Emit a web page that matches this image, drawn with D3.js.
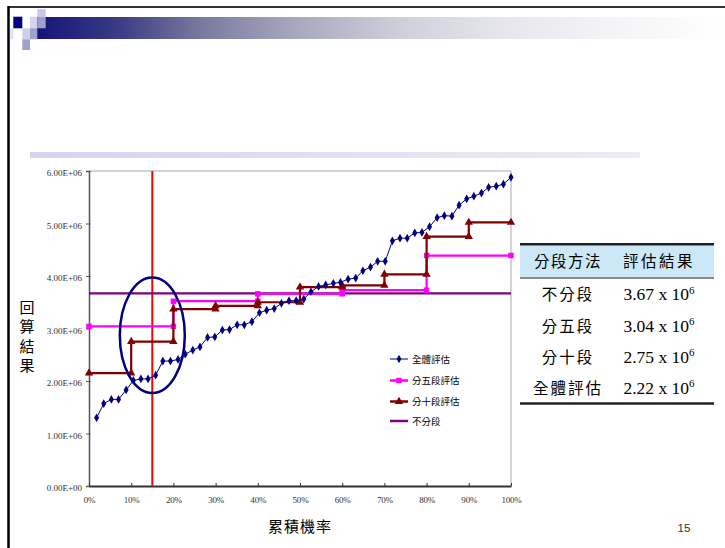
<!DOCTYPE html>
<html><head><meta charset="utf-8">
<script src="https://cdn.jsdelivr.net/npm/d3@7"></script>
<style>
html,body{margin:0;padding:0;background:#fff;}
svg{display:block;}
</style></head>
<body>
<svg id="chart" width="725" height="548"></svg>
<script>
// ---------------- data ----------------
const xPct = [1.8,3.5,5.3,7.0,8.8,10.5,12.3,14.0,15.8,17.5,19.3,21.1,22.8,24.6,26.3,28.1,29.8,31.6,33.3,35.1,
  36.8,38.6,40.4,42.1,43.9,45.6,47.4,49.1,50.9,52.6,54.4,56.1,57.9,59.6,61.4,63.2,64.9,66.7,68.4,70.2,
  71.9,73.7,75.4,77.2,78.9,80.7,82.5,84.2,86.0,87.7,89.5,91.2,93.0,94.7,96.5,98.2,100];
const overallValues = [1.30,1.57,1.65,1.65,1.83,2.01,2.04,2.04,2.11,2.38,
  2.38,2.41,2.51,2.59,2.65,2.83,2.84,2.97,2.98,3.07,
  3.07,3.13,3.30,3.35,3.38,3.48,3.53,3.53,3.56,3.70,
  3.80,3.83,3.86,3.88,3.94,3.96,4.10,4.17,4.28,4.28,
  4.67,4.72,4.72,4.82,4.83,4.94,5.11,5.15,5.14,5.35,
  5.47,5.52,5.58,5.69,5.71,5.75,5.88];          // x 10^6
const fiveSegEdges = [0,20,40,60,80,100];
const fiveSegValues = [3.04,3.52,3.66,3.73,4.39];
const tenSegEdges = [0,10,20,30,40,50,60,70,80,90,100];
const tenSegValues = [2.15,2.75,3.37,3.43,3.50,3.79,3.82,4.03,4.75,5.02];
const noSegValue = 3.67;
const cutoffPct = 15;
const highlightCenter = [15, 2.87];   // pct, x10^6
const highlightRadius = [7.7, 1.10];

const yTicks = [0,1,2,3,4,5,6];
const yTickLabels = ["0.00E+00","1.00E+06","2.00E+06","3.00E+06","4.00E+06","5.00E+06","6.00E+06"];
const xTicks = [0,10,20,30,40,50,60,70,80,90,100];
const xTickLabels = ["0%","10%","20%","30%","40%","50%","60%","70%","80%","90%","100%"];
const legendLabels = ["全體評估","分五段評估","分十段評估","不分段"];
const yTitle = "回算結果";
const xTitle = "累積機率";
const tableHeader = ["分段方法","評估結果"];
const tableMethods = ["不分段","分五段","分十段","全體評估"];
const tableResults = ["3.67","3.04","2.75","2.22"];
const tableExp = "6";
const pageNumber = "15";

// ---------------- setup ----------------
const svg = d3.select("#chart");
const CJK = "'Noto Sans CJK TC','Noto Sans CJK SC',sans-serif";
const SERIF = "'Liberation Serif','DejaVu Serif',serif";
const C = {blue:"#000080", pink:"#ff00ff", red:"#800000", purple:"#800080", cut:"#ff0000"};

svg.append("rect").attr("width",725).attr("height",548).attr("fill","#fff");

// slide decoration
const defs = svg.append("defs");
const g1 = defs.append("linearGradient").attr("id","band").attr("x1","0%").attr("x2","100%");
[[0,"#15157a"],[0.12,"#3b3b86"],[0.24,"#7a7aa0"],[0.38,"#a9a9bf"],[0.53,"#cfcfdb"],[0.67,"#e5e5ec"],[0.82,"#f3f3f6"],[1,"#ffffff"]]
  .forEach(s=>g1.append("stop").attr("offset",s[0]).attr("stop-color",s[1]));
const g2 = defs.append("linearGradient").attr("id","band2").attr("x1","0%").attr("x2","100%");
[[0,"#d4d4ec"],[1,"#ececf6"]].forEach(s=>g2.append("stop").attr("offset",s[0]).attr("stop-color",s[1]));
const g3 = defs.append("linearGradient").attr("id","fade").attr("x1","0%").attr("x2","100%");
[[0,"#ffffff"],[1,"#d8d8ec"]].forEach(s=>g3.append("stop").attr("offset",s[0]).attr("stop-color",s[1]));

const deco = svg.append("g");
deco.append("rect").attr("x",37).attr("y",17).attr("width",688).attr("height",22).attr("fill","url(#band)");
[[37.3,9.3,8.4,7.4,"#c8c8e4"],[13.3,16.7,9,11.6,"#000080"],[30,16.7,7.3,11.6,"#d4d4ec"],[37.3,16.7,8.4,11.6,"#9f9fd0"],
 [7.3,28.3,6,11,"url(#fade)"],[22.3,28.3,7.7,11,"#d0d0ea"],[30,28.3,7.3,11,"#9f9fd0"],[22.3,39.3,7.7,10.7,"#9f9fd0"]]
 .forEach(r=>deco.append("rect").attr("x",r[0]).attr("y",r[1]).attr("width",r[2]).attr("height",r[3]).attr("fill",r[4]));
deco.append("line").attr("x1",8).attr("x2",725).attr("y1",7).attr("y2",7).attr("stroke","#333").attr("stroke-width",2);
deco.append("line").attr("x1",8.5).attr("x2",8.5).attr("y1",6).attr("y2",548).attr("stroke","#000").attr("stroke-width",2.5);
deco.append("rect").attr("x",30).attr("y",152).attr("width",610).attr("height",6).attr("fill","url(#band2)");

// ---------------- chart ----------------
const x = d3.scaleLinear().domain([0,100]).range([89,511]);
const y = d3.scaleLinear().domain([0,6]).range([486,171]);

// plot border (top/right)
svg.append("path").attr("d",`M${x(0)},${y(6)}H${x(100)}V${y(0)}`).attr("fill","none").attr("stroke","#a8a8a8").attr("stroke-width",1);

const yAxis = svg.append("g").attr("transform",`translate(${x(0)},0)`)
  .call(d3.axisLeft(y).tickValues(yTicks).tickFormat((d,i)=>yTickLabels[i]).tickSize(3).tickPadding(4));
yAxis.selectAll("text").attr("font-family",SERIF).attr("font-size",9).attr("fill","#333").attr("dy","0.55em");
yAxis.select(".domain").attr("stroke","#555").attr("stroke-width",1.5);
yAxis.selectAll(".tick line").attr("stroke","#555").attr("x2",-3).attr("x1",1.5);

const xAxis = svg.append("g").attr("transform",`translate(0,${y(0)})`)
  .call(d3.axisBottom(x).tickValues(xTicks).tickFormat((d,i)=>xTickLabels[i]).tickSizeInner(-3).tickSizeOuter(0).tickPadding(11));
xAxis.selectAll("text").attr("font-family",SERIF).attr("font-size",9).attr("fill","#333").attr("letter-spacing",-0.2);
xAxis.select(".domain").attr("stroke","#333").attr("stroke-width",2);
xAxis.selectAll(".tick line").attr("stroke","#333");

// cutoff vertical line
svg.append("line").attr("x1",x(cutoffPct)).attr("x2",x(cutoffPct)).attr("y1",y(6)).attr("y2",y(0))
  .attr("stroke",C.cut).attr("stroke-width",2);

function stepPoints(edges, vals){
  const pts=[];
  vals.forEach((v,i)=>{pts.push([edges[i],v]);pts.push([edges[i+1],v]);});
  return pts;
}
const line = d3.line().x(d=>x(d[0])).y(d=>y(d[1]));

// no-segment
svg.append("path").attr("d",line([[0,noSegValue],[100,noSegValue]])).attr("stroke",C.purple).attr("stroke-width",2.2).attr("fill","none");

// five-segment
const fivePts = stepPoints(fiveSegEdges,fiveSegValues);
svg.append("path").attr("d",line(fivePts)).attr("stroke",C.pink).attr("stroke-width",2.2).attr("fill","none");
svg.append("g").selectAll("path").data(fivePts).join("path")
  .attr("d",d3.symbol(d3.symbolSquare,30)).attr("transform",d=>`translate(${x(d[0])},${y(d[1])})`).attr("fill",C.pink);

// ten-segment
const tenPts = stepPoints(tenSegEdges,tenSegValues);
svg.append("path").attr("d",line(tenPts)).attr("stroke",C.red).attr("stroke-width",2.2).attr("fill","none");
svg.append("g").selectAll("path").data(tenPts).join("path")
  .attr("d",d3.symbol(d3.symbolTriangle,30)).attr("transform",d=>`translate(${x(d[0])},${y(d[1])})`).attr("fill",C.red);

// overall
const overallPts = xPct.map((p,i)=>[p,overallValues[i]]);
svg.append("path").attr("d",line(overallPts)).attr("stroke",C.blue).attr("stroke-width",1).attr("fill","none");
svg.append("g").selectAll("path").data(overallPts).join("path")
  .attr("d",d3.symbol(d3.symbolDiamond,22)).attr("transform",d=>`translate(${x(d[0])},${y(d[1])})`).attr("fill",C.blue);

// highlight ellipse
svg.append("ellipse").attr("cx",x(highlightCenter[0])).attr("cy",y(highlightCenter[1]))
  .attr("rx",x(highlightRadius[0])-x(0)).attr("ry",y(0)-y(highlightRadius[1]))
  .attr("fill","none").attr("stroke",C.blue).attr("stroke-width",2.5);

// legend
const legendStyles = [
  {c:C.blue,sym:d3.symbolDiamond,size:20,w:1},
  {c:C.pink,sym:d3.symbolSquare,size:30,w:2.5},
  {c:C.red,sym:d3.symbolTriangle,size:30,w:2.5},
  {c:C.purple,sym:null,w:2.5}];
const legendY = [359,380.5,401.5,421];
const lg = svg.append("g");
legendLabels.forEach((t,i)=>{
  const s = legendStyles[i];
  lg.append("line").attr("x1",390).attr("x2",408).attr("y1",legendY[i]).attr("y2",legendY[i]).attr("stroke",s.c).attr("stroke-width",s.w);
  if(s.sym) lg.append("path").attr("d",d3.symbol(s.sym,s.size)).attr("transform",`translate(399,${legendY[i]})`).attr("fill",s.c);
  lg.append("text").attr("x",412).attr("y",legendY[i]+3.5).attr("font-family",CJK).attr("font-size",9.5).attr("fill","#000").text(t);
});

// axis titles
yTitle.split("").forEach((ch,i)=>{
  svg.append("text").attr("x",27).attr("y",313+i*19.3).attr("text-anchor","middle")
    .attr("font-family",CJK).attr("font-size",15).attr("fill","#000").text(ch);
});
svg.append("text").attr("x",300).attr("y",532).attr("text-anchor","middle").attr("font-family",CJK)
  .attr("font-size",15).attr("letter-spacing",1).attr("fill","#000").text(xTitle);
svg.append("text").attr("x",684).attr("y",532).attr("text-anchor","middle").attr("font-family","'Liberation Sans',Arial,sans-serif")
  .attr("font-size",11.5).attr("fill","#333").text(pageNumber);

// ---------------- table ----------------
const tb = svg.append("g");
tb.append("rect").attr("x",520).attr("y",245).attr("width",194).attr("height",32.5).attr("fill","#cce8f7");
tb.append("line").attr("x1",520).attr("x2",714).attr("y1",244.3).attr("y2",244.3).attr("stroke","#222").attr("stroke-width",2.5);
tb.append("line").attr("x1",520).attr("x2",714).attr("y1",278).attr("y2",278).attr("stroke","#8a8a8a").attr("stroke-width",2);
tb.append("line").attr("x1",520).attr("x2",714).attr("y1",403.5).attr("y2",403.5).attr("stroke","#222").attr("stroke-width",2.5);
const col1 = 568, col2 = 659;
tb.append("text").attr("x",col1).attr("y",267).attr("text-anchor","middle").attr("font-family",CJK).attr("font-size",15.5)
  .attr("letter-spacing",1.5).attr("fill","#000").text(tableHeader[0]);
tb.append("text").attr("x",col2).attr("y",267).attr("text-anchor","middle").attr("font-family",CJK).attr("font-size",15.5)
  .attr("letter-spacing",2.5).attr("fill","#000").text(tableHeader[1]);
const rowY = [300,331.5,362.5,393.5];
tableMethods.forEach((m,i)=>{
  tb.append("text").attr("x",col1).attr("y",rowY[i]).attr("text-anchor","middle").attr("font-family",CJK)
    .attr("font-size",15.5).attr("letter-spacing",2).attr("fill","#000").text(m);
  const t = tb.append("text").attr("x",col2).attr("y",rowY[i]).attr("text-anchor","middle").attr("font-family",SERIF)
    .attr("font-size",17.5).attr("fill","#000");
  t.append("tspan").text(tableResults[i]+" x 10");
  t.append("tspan").attr("dy",-6.5).attr("font-size",11).text(tableExp);
});
</script>
</body></html>
